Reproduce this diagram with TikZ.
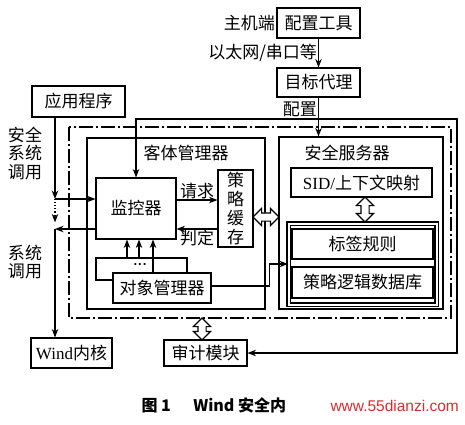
\documentclass[tikz,border=0pt]{standalone}
\usepackage{fontspec}
\setmainfont{Liberation Serif}
\newfontfamily\cjk{Noto Sans CJK SC}
\newfontfamily\wmfont{Liberation Sans}
\usetikzlibrary{arrows.meta,shapes.arrows,calc}
\definecolor{wmred}{RGB}{215,45,45}

\tikzset{
  box/.style={draw, inner sep=0pt, font=\cjk\fontsize{17}{20}\selectfont},
  lbl/.style={inner sep=1pt, font=\cjk\fontsize{17}{18.5}\selectfont, align=center},
  ar/.style={-{Stealth[length=8.5pt,width=6.5pt]}},
  dashdot/.style={dash pattern=on 14pt off 3pt on 2pt off 3pt},
  hollow/.style={double arrow, draw, fill=white, inner sep=3.5pt,
    double arrow head extend=4.5pt}
}

\begin{document}
\begin{tikzpicture}[x=1pt, y=-1pt, line width=1.1pt]
\useasboundingbox (0,0) rectangle (465,424);

% boxes at the top
\node[box, minimum width=83, minimum height=30] (cfg) at (318.5,23) {配置工具};
\node[box, minimum width=83, minimum height=29] (agent) at (318.5,82.5) {目标代理};
\node[lbl, left] (host) at (cfg.west) {主机端};
\node[box, minimum width=93, minimum height=31] (app) at (78.5,101.5) {应用程序};

% dash-dot frame of the kernel
\draw[dashdot] (69,127) rectangle (451,318);

% object manager part
\node[box, minimum width=178, minimum height=171] (objpart) at (176,223.5) {};
\node[lbl] (objtitle) at (186,153) {客体管理器};
\node[box, minimum width=80, minimum height=61] (monitor) at (136,208.5) {监控器};
\node[box, minimum width=35, minimum height=77, align=center,
  font=\cjk\fontsize{17}{19}\selectfont] (cache) at (235.5,208.5) {策\\略\\缓\\存};
\node[box, minimum width=98, minimum height=30] (omgr) at (162,288) {对象管理器};

% security server part
\node[box, minimum width=164, minimum height=172] (secsrv) at (361,223) {};
\node[lbl] (sectitle) at (347,153) {安全服务器};
\node[box, minimum width=141, minimum height=29] (sid) at (361.5,182.5) {{\rmfamily SID/}上下文映射};
\node[draw, double, double distance=2pt, minimum width=148, minimum height=81] (dbgroup) at (362.5,264) {};
\node[box, minimum width=141, minimum height=30] (rules) at (362.5,244) {标签规则};
\node[box, minimum width=141, minimum height=31] (db) at (362.5,282.5) {策略逻辑数据库};

% boxes at the bottom
\node[box, minimum width=81, minimum height=30] (kernel) at (71.5,353) {{\rmfamily Wind}内核};
\node[box, minimum width=83, minimum height=26] (audit) at (205.5,353) {审计模块};

% configuration
\draw[ar] (cfg) -- node[lbl, left] {以太网/串口等} (agent);
\coordinate (cj) at (318.5,119);
\draw[ar] (agent) -- node[lbl, left, pos=0.3] {配置} (agent.south |- secsrv.north);
\draw[ar] (cj) -| (monitor.north);
\draw[ar] (cj) -- (457,119) |- (audit.east);

% system calls
\coordinate (sc) at (55,199);
\coordinate (kc) at (55,229);
\draw[ar] (app.south -| sc) -- (sc);
\draw[ar] (sc) -- (sc -| monitor.west);
\draw[ar, dotted] (sc) -- ($(sc)!0.78!(kc)$);
\draw[ar] (kc -| monitor.west) -- (kc);
\draw[ar] (kc) -- (kc |- kernel.north);
\node[lbl] (seccall) at (25,153) {安全\\系统\\调用};
\node[lbl] (syscall) at (25,262) {系统\\调用};

% monitor and cache
\draw[ar] ([yshift=8.5pt]monitor.east) -- node[lbl, above] {请求} ([yshift=8.5pt]monitor.east -| cache.west);
\draw[ar] ([yshift=-20.5pt]monitor.east -| cache.west) -- node[lbl, below] {判定} ([yshift=-20.5pt]monitor.east);

% object manager to monitor
\draw ([yshift=8pt]omgr.west) -| (96,258) -| ([xshift=25pt]omgr.north);
\foreach \dx in {-9,3}
  \draw[ar] ($(monitor.south)+(\dx,19)$) -- ($(monitor.south)+(\dx,0)$);
\draw[ar] ($(omgr.north)+(-9,0)$) -- ($(monitor.south)+(17,0)$);
\node[inner sep=0pt, font=\fontsize{9}{9}\selectfont] (dots) at (140,265) {\textbullet\kern1.5pt\textbullet\kern1.5pt\textbullet};
\draw[ar] ([yshift=2pt]omgr.east) -- ++(58,0) |- (dbgroup.west);

% hollow arrows
\node[hollow, minimum height=26] (h1) at (266,217) {};
\node[hollow, minimum height=25, rotate=90] (h2) at (365,209.5) {};
\node[hollow, minimum height=22, rotate=90] (h3) at (202,329) {};

% caption
\node[anchor=west, inner sep=0pt, font=\cjk\bfseries\fontsize{16}{18}\selectfont] (caption) at (141,405) {图 1\hspace{1.4em}Wind 安全内};
\node[anchor=west, inner sep=0pt, text=wmred, font=\wmfont\fontsize{15.5}{18}\selectfont] (mark) at (330,406) {www.55dianzi.com};
\end{tikzpicture}
\end{document}
